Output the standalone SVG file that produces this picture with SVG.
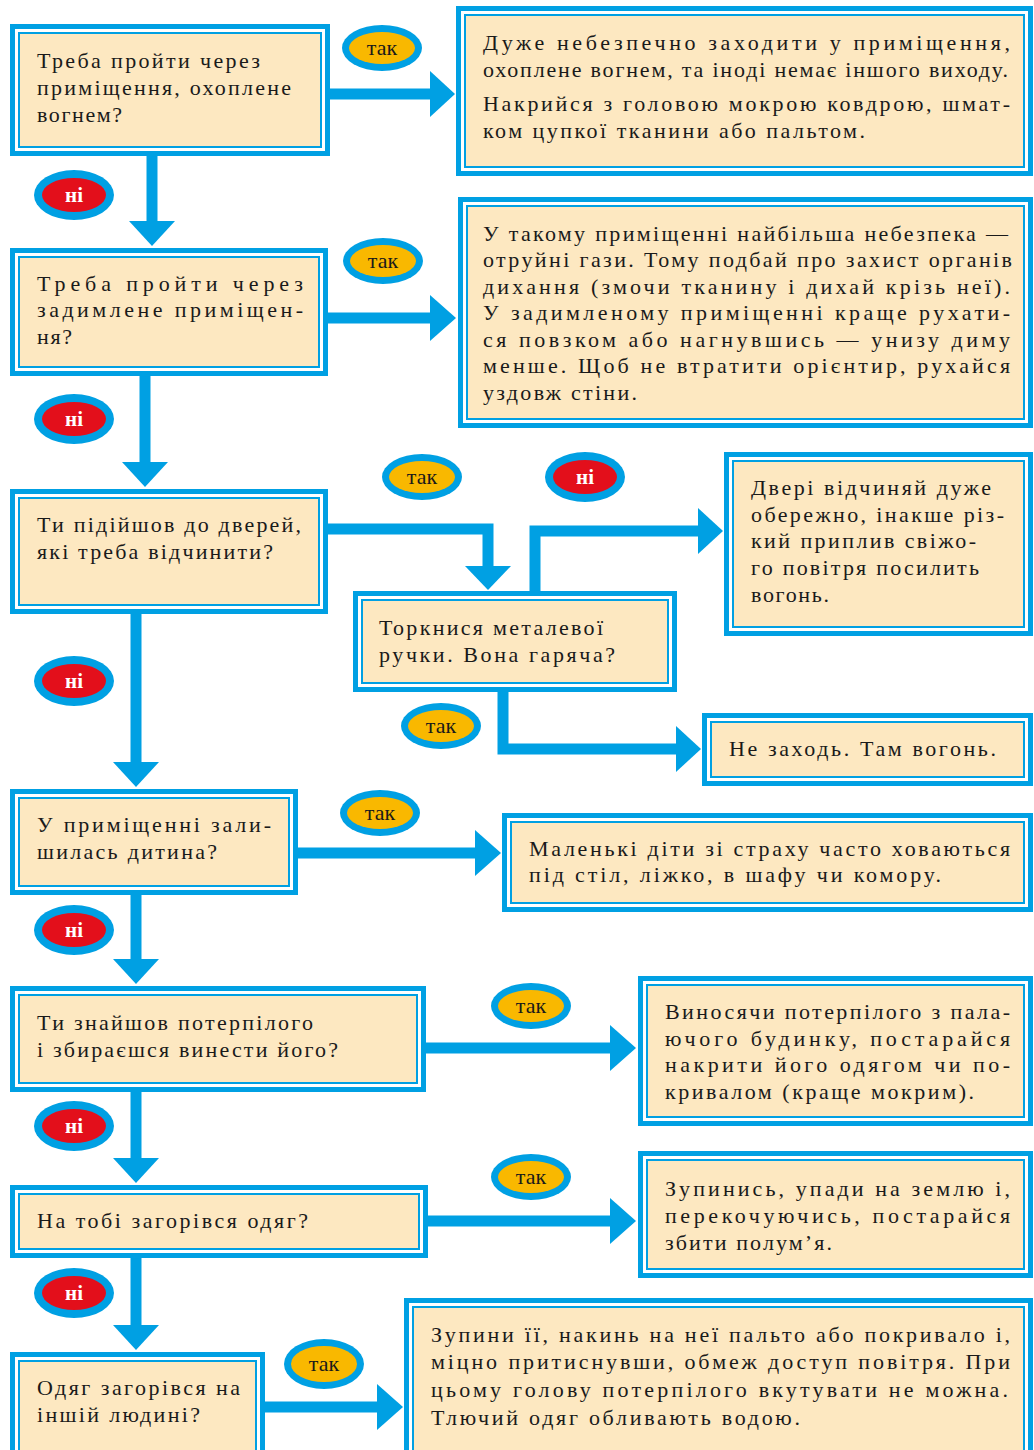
<svg xmlns="http://www.w3.org/2000/svg" width="1034" height="1450" viewBox="0 0 1034 1450" font-family="Liberation Serif">
<style>
.o{fill:#fff;stroke:#00A0E3;stroke-width:5}
.i{fill:#FDE8C1;stroke:#00A0E3;stroke-width:2}
.t{font-size:22px;fill:#1a1a1a}
.c{fill:none;stroke:#00A0E3;stroke-width:11;stroke-linejoin:miter}
.h{fill:#00A0E3}
.bo{fill:#00A0E3}
.by{fill:#F9B800}
.br{fill:#E30F1B}
.bt{font-size:22px;fill:#1a1a1a;text-anchor:middle}
.bw{font-size:21px;font-weight:bold;fill:#fff;text-anchor:middle}
</style>
<rect width="1034" height="1450" fill="#fff"/>

<g id="connectors">
<path class="c" d="M330 94H432"/><polygon class="h" points="430,71 455,94 430,117"/>
<path class="c" d="M152 156V223"/><polygon class="h" points="129,221 152,246 175,221"/>
<path class="c" d="M328 318H432"/><polygon class="h" points="430,295 456,318 430,341"/>
<path class="c" d="M145 376V464"/><polygon class="h" points="122,462 145,487 168,462"/>
<path class="c" d="M328 529H488V568"/><polygon class="h" points="465,566 488,590 511,566"/>
<path class="c" d="M535 591V531H700"/><polygon class="h" points="698,508 723,531 698,554"/>
<path class="c" d="M503 692V749H678"/><polygon class="h" points="676,726 701,749 676,772"/>
<path class="c" d="M136 614V764"/><polygon class="h" points="113,762 136,787 159,762"/>
<path class="c" d="M298 853H477"/><polygon class="h" points="475,830 501,853 475,876"/>
<path class="c" d="M136 895V961"/><polygon class="h" points="113,959 136,984 159,959"/>
<path class="c" d="M426 1048H612"/><polygon class="h" points="610,1025 636,1048 610,1071"/>
<path class="c" d="M136 1092V1160"/><polygon class="h" points="113,1158 136,1183 159,1158"/>
<path class="c" d="M428 1221H612"/><polygon class="h" points="610,1198 636,1221 610,1244"/>
<path class="c" d="M136 1258V1327"/><polygon class="h" points="113,1325 136,1350 159,1325"/>
<path class="c" d="M265 1407H379"/><polygon class="h" points="377,1384 403,1407 377,1430"/>
</g>

<g id="labels">
<g><ellipse class="bo" cx="382" cy="48" rx="40" ry="23"/><ellipse class="by" cx="382" cy="48" rx="33" ry="16"/><text class="bt" font-family="Liberation Serif" x="382" y="55">так</text></g>
<g><ellipse class="bo" cx="383" cy="261" rx="40" ry="23"/><ellipse class="by" cx="383" cy="261" rx="33" ry="16"/><text class="bt" font-family="Liberation Serif" x="383" y="268">так</text></g>
<g><ellipse class="bo" cx="422" cy="477" rx="40" ry="23"/><ellipse class="by" cx="422" cy="477" rx="33" ry="16"/><text class="bt" font-family="Liberation Serif" x="422" y="484">так</text></g>
<g><ellipse class="bo" cx="441" cy="726" rx="40" ry="23"/><ellipse class="by" cx="441" cy="726" rx="33" ry="16"/><text class="bt" font-family="Liberation Serif" x="441" y="733">так</text></g>
<g><ellipse class="bo" cx="380" cy="813" rx="40" ry="23"/><ellipse class="by" cx="380" cy="813" rx="33" ry="16"/><text class="bt" font-family="Liberation Serif" x="380" y="820">так</text></g>
<g><ellipse class="bo" cx="531" cy="1006" rx="40" ry="23"/><ellipse class="by" cx="531" cy="1006" rx="33" ry="16"/><text class="bt" font-family="Liberation Serif" x="531" y="1013">так</text></g>
<g><ellipse class="bo" cx="531" cy="1177" rx="40" ry="23"/><ellipse class="by" cx="531" cy="1177" rx="33" ry="16"/><text class="bt" font-family="Liberation Serif" x="531" y="1184">так</text></g>
<g><ellipse class="bo" cx="324" cy="1364" rx="40" ry="25"/><ellipse class="by" cx="324" cy="1364" rx="33" ry="18"/><text class="bt" font-family="Liberation Serif" x="324" y="1371">так</text></g>
<g><ellipse class="bo" cx="74" cy="195" rx="40" ry="25"/><ellipse class="br" cx="74" cy="195" rx="32" ry="17"/><text class="bw" font-family="Liberation Serif" x="74" y="202">ні</text></g>
<g><ellipse class="bo" cx="74" cy="419" rx="40" ry="25"/><ellipse class="br" cx="74" cy="419" rx="32" ry="17"/><text class="bw" font-family="Liberation Serif" x="74" y="426">ні</text></g>
<g><ellipse class="bo" cx="585" cy="477" rx="40" ry="25"/><ellipse class="br" cx="585" cy="477" rx="32" ry="17"/><text class="bw" font-family="Liberation Serif" x="585" y="484">ні</text></g>
<g><ellipse class="bo" cx="74" cy="681" rx="40" ry="25"/><ellipse class="br" cx="74" cy="681" rx="32" ry="17"/><text class="bw" font-family="Liberation Serif" x="74" y="688">ні</text></g>
<g><ellipse class="bo" cx="74" cy="930" rx="40" ry="25"/><ellipse class="br" cx="74" cy="930" rx="32" ry="17"/><text class="bw" font-family="Liberation Serif" x="74" y="937">ні</text></g>
<g><ellipse class="bo" cx="74" cy="1126" rx="40" ry="25"/><ellipse class="br" cx="74" cy="1126" rx="32" ry="17"/><text class="bw" font-family="Liberation Serif" x="74" y="1133">ні</text></g>
<g><ellipse class="bo" cx="74" cy="1293" rx="40" ry="25"/><ellipse class="br" cx="74" cy="1293" rx="32" ry="17"/><text class="bw" font-family="Liberation Serif" x="74" y="1300">ні</text></g>
</g>

<g id="q1">
<rect class="o" x="12.5" y="26.5" width="315" height="127"/><rect class="i" x="19" y="33" width="302" height="114"/>
<text class="t" font-family="Liberation Serif" x="37" y="68" textLength="223">Треба пройти через</text>
<text class="t" font-family="Liberation Serif" x="37" y="95" textLength="254">приміщення, охоплене</text>
<text class="t" font-family="Liberation Serif" x="37" y="122" textLength="85">вогнем?</text>
</g>

<g id="a1">
<rect class="o" x="458.5" y="8.5" width="572" height="165"/><rect class="i" x="465" y="15" width="559" height="152"/>
<text class="t" font-family="Liberation Serif" x="483" y="50" textLength="527">Дуже небезпечно заходити у приміщення,</text>
<text class="t" font-family="Liberation Serif" x="483" y="77" textLength="525">охоплене вогнем, та іноді немає іншого виходу.</text>
<text class="t" font-family="Liberation Serif" x="483" y="111" textLength="527">Накрийся з головою мокрою ковдрою, шмат-</text>
<text class="t" font-family="Liberation Serif" x="483" y="138" textLength="382">ком цупкої тканини або пальтом.</text>
</g>

<g id="q2">
<rect class="o" x="12.5" y="250.5" width="313" height="123"/><rect class="i" x="19" y="257" width="300" height="110"/>
<text class="t" font-family="Liberation Serif" x="37" y="291" textLength="266">Треба пройти через</text>
<text class="t" font-family="Liberation Serif" x="37" y="317" textLength="266">задимлене приміщен-</text>
<text class="t" font-family="Liberation Serif" x="37" y="344" textLength="35">ня?</text>
</g>

<g id="a2">
<rect class="o" x="460.5" y="199.5" width="570" height="226"/><rect class="i" x="467" y="206" width="557" height="213"/>
<text class="t" font-family="Liberation Serif" x="483" y="241" textLength="525">У такому приміщенні найбільша небезпека —</text>
<text class="t" font-family="Liberation Serif" x="483" y="267" textLength="529">отруйні гази. Тому подбай про захист органів</text>
<text class="t" font-family="Liberation Serif" x="483" y="294" textLength="527">дихання (змочи тканину і дихай крізь неї).</text>
<text class="t" font-family="Liberation Serif" x="483" y="320" textLength="527">У задимленому приміщенні краще рухати-</text>
<text class="t" font-family="Liberation Serif" x="483" y="347" textLength="527">ся повзком або нагнувшись — унизу диму</text>
<text class="t" font-family="Liberation Serif" x="483" y="373" textLength="527">менше. Щоб не втратити орієнтир, рухайся</text>
<text class="t" font-family="Liberation Serif" x="483" y="400" textLength="154">уздовж стіни.</text>
</g>

<g id="q3">
<rect class="o" x="12.5" y="491.5" width="313" height="120"/><rect class="i" x="19" y="498" width="300" height="107"/>
<text class="t" font-family="Liberation Serif" x="37" y="532" textLength="264">Ти підійшов до дверей,</text>
<text class="t" font-family="Liberation Serif" x="37" y="559" textLength="236">які треба відчинити?</text>
</g>

<g id="q4">
<rect class="o" x="355.5" y="593.5" width="319" height="96"/><rect class="i" x="362" y="600" width="306" height="83"/>
<text class="t" font-family="Liberation Serif" x="379" y="635" textLength="224">Торкнися металевої</text>
<text class="t" font-family="Liberation Serif" x="379" y="662" textLength="236">ручки. Вона гаряча?</text>
</g>

<g id="a3">
<rect class="o" x="726.5" y="454.5" width="304" height="179"/><rect class="i" x="733" y="461" width="291" height="166"/>
<text class="t" font-family="Liberation Serif" x="751" y="495" textLength="240">Двері відчиняй дуже</text>
<text class="t" font-family="Liberation Serif" x="751" y="522" textLength="253">обережно, інакше різ-</text>
<text class="t" font-family="Liberation Serif" x="751" y="548" textLength="225">кий приплив свіжо-</text>
<text class="t" font-family="Liberation Serif" x="751" y="575" textLength="228">го повітря посилить</text>
<text class="t" font-family="Liberation Serif" x="751" y="602" textLength="78">вогонь.</text>
</g>

<g id="a4">
<rect class="o" x="704.5" y="715.5" width="326" height="68"/><rect class="i" x="711" y="722" width="313" height="55"/>
<text class="t" font-family="Liberation Serif" x="729" y="756" textLength="267">Не заходь. Там вогонь.</text>
</g>

<g id="q5">
<rect class="o" x="12.5" y="791.5" width="283" height="101"/><rect class="i" x="19" y="798" width="270" height="88"/>
<text class="t" font-family="Liberation Serif" x="37" y="832" textLength="234">У приміщенні зали-</text>
<text class="t" font-family="Liberation Serif" x="37" y="859" textLength="180">шилась дитина?</text>
</g>

<g id="a5">
<rect class="o" x="504.5" y="815.5" width="526" height="94"/><rect class="i" x="511" y="822" width="513" height="81"/>
<text class="t" font-family="Liberation Serif" x="529" y="856" textLength="481">Маленькі діти зі страху часто ховаються</text>
<text class="t" font-family="Liberation Serif" x="529" y="882" textLength="412">під стіл, ліжко, в шафу чи комору.</text>
</g>

<g id="q6">
<rect class="o" x="12.5" y="988.5" width="411" height="101"/><rect class="i" x="19" y="995" width="398" height="88"/>
<text class="t" font-family="Liberation Serif" x="37" y="1030" textLength="276">Ти знайшов потерпілого</text>
<text class="t" font-family="Liberation Serif" x="37" y="1057" textLength="301">і збираєшся винести його?</text>
</g>

<g id="a6">
<rect class="o" x="640.5" y="978.5" width="390" height="145"/><rect class="i" x="647" y="985" width="377" height="132"/>
<text class="t" font-family="Liberation Serif" x="665" y="1019" textLength="345">Виносячи потерпілого з пала-</text>
<text class="t" font-family="Liberation Serif" x="665" y="1046" textLength="345">ючого будинку, постарайся</text>
<text class="t" font-family="Liberation Serif" x="665" y="1072" textLength="345">накрити його одягом чи по-</text>
<text class="t" font-family="Liberation Serif" x="665" y="1099" textLength="309">кривалом (краще мокрим).</text>
</g>

<g id="q7">
<rect class="o" x="12.5" y="1187.5" width="413" height="68"/><rect class="i" x="19" y="1194" width="400" height="55"/>
<text class="t" font-family="Liberation Serif" x="37" y="1228" textLength="271">На тобі загорівся одяг?</text>
</g>

<g id="a7">
<rect class="o" x="640.5" y="1153.5" width="390" height="122"/><rect class="i" x="647" y="1160" width="377" height="109"/>
<text class="t" font-family="Liberation Serif" x="665" y="1196" textLength="345">Зупинись, упади на землю і,</text>
<text class="t" font-family="Liberation Serif" x="665" y="1223" textLength="345">перекочуючись, постарайся</text>
<text class="t" font-family="Liberation Serif" x="665" y="1250" textLength="167">збити полум’я.</text>
</g>

<g id="q8">
<rect class="o" x="12.5" y="1354.5" width="250" height="110"/><rect class="i" x="19" y="1361" width="237" height="97"/>
<text class="t" font-family="Liberation Serif" x="37" y="1395" textLength="203">Одяг загорівся на</text>
<text class="t" font-family="Liberation Serif" x="37" y="1422" textLength="163">іншій людині?</text>
</g>

<g id="a8">
<rect class="o" x="406.5" y="1300.5" width="624" height="165"/><rect class="i" x="413" y="1307" width="611" height="152"/>
<text class="t" font-family="Liberation Serif" x="431" y="1342" textLength="579">Зупини її, накинь на неї пальто або покривало і,</text>
<text class="t" font-family="Liberation Serif" x="431" y="1369" textLength="579">міцно притиснувши, обмеж доступ повітря. При</text>
<text class="t" font-family="Liberation Serif" x="431" y="1397" textLength="577">цьому голову потерпілого вкутувати не можна.</text>
<text class="t" font-family="Liberation Serif" x="431" y="1425" textLength="369">Тлючий одяг обливають водою.</text>
</g>
</svg>
